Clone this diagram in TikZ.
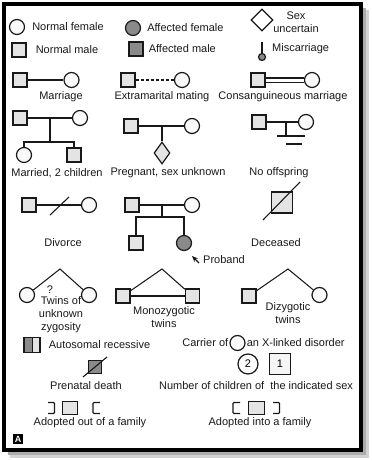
\documentclass[tikz,border=0pt]{standalone}
\usepackage{fontspec}
\setmainfont{Liberation Sans}
\usetikzlibrary{shapes.geometric,arrows.meta,positioning,calc}
\definecolor{pedline}{RGB}{25,25,25}
\definecolor{pedaff}{RGB}{138,138,138}
\definecolor{pedlight}{RGB}{228,228,228}
\tikzset{
  female/.style={
    circle, draw=pedline, line width=1.2pt, fill=gray!4,
    minimum size=15pt, inner sep=0pt, font=\fontsize{11}{13}\selectfont
  },
  male/.style={
    rectangle, draw=pedline, line width=1.2pt, fill=pedlight,
    minimum size=14pt, inner sep=0pt, font=\fontsize{11}{13}\selectfont
  },
  affF/.style={female, fill=pedaff},
  affM/.style={male, fill=pedaff},
  sexunk/.style={
    diamond, draw=pedline, line width=1.2pt, fill=white,
    minimum size=22pt, inner sep=0pt
  },
  hetero/.style={
    male, path picture={
      \fill[pedaff] (path picture bounding box.north west)
        rectangle (path picture bounding box.south);
      \draw[pedline, line width=1pt] (path picture bounding box.north)
        -- (path picture bounding box.south);
    }
  },
  lbl/.style={
    font=\fontsize{11}{13}\selectfont, inner sep=0pt,
    align=center, text=pedline
  },
  link/.style={draw=pedline, line width=1.05pt},
  dlink/.style={link, dash pattern=on 3pt off 2pt},
  slash/.style={draw=pedline, line width=1.1pt},
  brk/.style={draw=pedline, line width=1.1pt, rounded corners=1pt},
  parrow/.style={-{Stealth[length=6pt,width=5pt]}, draw=pedline, line width=1.2pt}
}

\begin{document}
\begin{tikzpicture}[x=1pt, y=-1pt]
  \useasboundingbox (0,0) rectangle (372,461);
  % frame with shadow
  \draw[gray!35, line width=3pt] (367,10) -- (367,456) -- (10,456);
  \draw[gray!65, line width=3pt] (364.5,8) -- (364.5,453.5) -- (8,453.5);
  \draw[black, line width=4.5pt] (4,4) rectangle (361,450);

  % key symbols
  \node[female] (nf) at (17,27) {};
  \node[lbl, right=7pt of nf] (nfl) {Normal female};
  \node[affF] (af) at (133,28) {};
  \node[lbl, right=6pt of af] (afl) {Affected female};
  \node[sexunk] (su) at (262,20) {};
  \node[lbl] (sul) at (296,22) {Sex\\uncertain};

  \node[male] (nm) at (19,50) {};
  \node[lbl, right=9pt of nm] (nml) {Normal male};
  \node[affM] (am) at (136,49) {};
  \node[lbl, right=5pt of am] (aml) {Affected male};
  \node[affF, minimum size=7pt] (mc) at (262,57) {};
  \coordinate (mctop) at (262,42);
  \draw[link] (mctop) -- (mc);
  \node[lbl, anchor=west] (mcl) at (272,49) {Miscarriage};

  % matings
  \node[male] (m1) at (20,80) {};
  \node[female] (f1) at (71.5,80) {};
  \draw[link] (m1) -- (f1);
  \node[lbl] (l1) at (61,97) {Marriage};
  \node[male] (m2) at (128,80) {};
  \node[female] (f2) at (182,80) {};
  \draw[dlink] (m2) -- (f2);
  \node[lbl] (l2) at (162,97) {Extramarital mating};
  \node[male] (m3) at (258,80) {};
  \node[female] (f3) at (312,80) {};
  \draw[link, double, double distance=3pt] (m3) -- (f3);
  \node[lbl] (l3) at (283,97) {Consanguineous marriage};

  % offspring
  \node[male] (m4) at (20,118) {};
  \node[female] (f4) at (80,118) {};
  \draw[link] (m4) -- (f4);
  \coordinate (d4) at (50,118);
  \coordinate (j4) at (50,142);
  \node[female] (c4a) at (24,155) {};
  \node[male] (c4b) at (74,155) {};
  \draw[link] (d4) -- (j4);
  \draw[link] (c4a) |- (j4) -| (c4b);
  \node[lbl] (l4) at (57,173) {Married, 2 children};

  \node[male] (m5) at (131,126) {};
  \node[female] (f5) at (192,126) {};
  \draw[link] (m5) -- (f5);
  \coordinate (d5) at (162,126);
  \node[sexunk, minimum width=16pt, minimum height=22pt, fill=gray!22] (p5) at (162,153) {};
  \draw[link] (d5) -- (p5);
  \node[lbl] (l5) at (168,173) {Pregnant, sex unknown};

  \node[male] (m6) at (259,122) {};
  \node[female] (f6) at (306,122) {};
  \draw[link] (m6) -- (f6);
  \coordinate (d6) at (286,122);
  \coordinate (n6) at (286,136);
  \draw[link] (d6) -- (n6);
  \draw[link] (277,136) -- (305,136);
  \draw[link] (286,144) -- (302,144);
  \node[lbl] (l6) at (279,173) {No offspring};

  \node[male] (m7) at (29,205) {};
  \node[female] (f7) at (89,205) {};
  \draw[link] (m7) -- (f7);
  \draw[slash] (50,215) -- (69,197);
  \node[lbl] (l7) at (63,243) {Divorce};

  \node[male] (m8) at (132,205) {};
  \node[female] (f8) at (192,205) {};
  \draw[link] (m8) -- (f8);
  \coordinate (d8) at (162,205);
  \coordinate (j8) at (162,217);
  \node[male] (c8a) at (136,243) {};
  \node[affF] (c8b) at (184,243) {};
  \draw[link] (d8) -- (j8);
  \draw[link] (c8a) |- (j8) -| (c8b);
  \coordinate (pbt) at (199,263);
  \coordinate (pbh) at (192,256);
  \draw[parrow] (pbt) -- (pbh);
  \node[lbl, anchor=west] (l8) at (203,260) {Proband};

  \node[male, minimum size=21pt] (m9) at (282,202.5) {};
  \draw[slash] (263,220) -- (300,182);
  \node[lbl] (l9) at (276,243) {Deceased};

  % twins
  \coordinate (t1) at (60,269);
  \node[female] (t1a) at (27,295) {};
  \node[female] (t1b) at (89,295) {};
  \draw[link] (t1a) -- (t1) -- (t1b);
  \node[lbl] (q1) at (50,290) {?};
  \node[lbl] (l10) at (61,315) {Twins of\\unknown\\zygosity};

  \coordinate (t2) at (162,269);
  \node[male] (t2a) at (123,296) {};
  \node[male] (t2b) at (192.5,296) {};
  \draw[link] (t2a) -- (t2) -- (t2b);
  \draw[link] (t2a) -- (t2b);
  \node[lbl] (l11) at (164,317.5) {Monozygotic\\twins};

  \coordinate (t3) at (288,269);
  \node[male] (t3a) at (249,296) {};
  \node[female] (t3b) at (319.5,295) {};
  \draw[link] (t3a) -- (t3) -- (t3b);
  \node[lbl] (l12) at (288,313.5) {Dizygotic\\twins};

  % other
  \node[hetero, minimum width=16pt, minimum height=15pt] (ar) at (32,345) {};
  \node[lbl, right=8pt of ar] (arl) {Autosomal recessive};
  \node[female] (cx) at (237.5,343) {};
  \node[lbl, left=1pt of cx] (cxl) {Carrier of};
  \node[lbl, right=1pt of cx] (cxr) {an X-linked disorder};

  \node[affM, minimum size=13pt] (pd) at (95,367) {};
  \draw[slash] (83,377) -- (107,357);
  \node[lbl] (pdl) at (86,386) {Prenatal death};

  \node[female, minimum size=20pt, fill=white] (n2) at (248,364) {2};
  \node[male, minimum size=21pt, fill=gray!8] (n1) at (280,364) {1};
  \node[lbl] (nl) at (256,386) {Number of children of\ \ the indicated sex};

  \node[male, minimum width=15pt, minimum height=13pt] (ao) at (70,408) {};
  \draw[brk] (48,402.5) -- (54.5,402.5) -- (54.5,413.5) -- (48,413.5);
  \draw[brk] (100,402.5) -- (93,402.5) -- (93,413.5) -- (100,413.5);
  \node[lbl] (aol) at (90,423) {Adopted out of a family};

  \node[male, minimum width=16pt, minimum height=13pt] (ai) at (256.5,408) {};
  \draw[brk] (240,402.5) -- (233,402.5) -- (233,413.5) -- (240,413.5);
  \draw[brk] (273,402.5) -- (279.5,402.5) -- (279.5,413.5) -- (273,413.5);
  \node[lbl] (ail) at (260,423) {Adopted into a family};

  \node[fill=black, text=white, font=\bfseries\fontsize{9}{9}\selectfont,
        inner sep=0pt, minimum size=10pt] (tag) at (18,439) {A};
\end{tikzpicture}
\end{document}
